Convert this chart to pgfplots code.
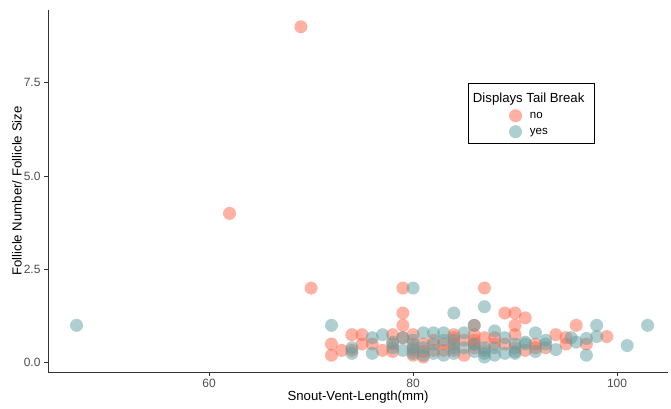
\documentclass[border=0pt]{standalone}
\usepackage{fontspec}
\setmainfont{Liberation Sans}
\usepackage{pgfplots}
\usepackage{pgfplotstable}
\pgfplotsset{compat=1.18}
\definecolor{noc}{HTML}{FF6347}
\definecolor{yesc}{HTML}{5F9EA0}
\definecolor{axc}{HTML}{333333}
\definecolor{tickc}{HTML}{4D4D4D}
\pgfplotstableread{
x y
62 4
69 9
70 2
79 2
87 2
79 1.33
79 1.0
89 1.33
90 1.33
91 1.2
90 1.0
86 1.0
96 1.0
72 0.5
72 0.2
73 0.33
74 0.75
74 0.33
75 0.75
75 0.5
76 0.5
77 0.33
78 0.75
78 0.5
79 0.67
80 0.75
80 0.5
80 0.2
81 0.15
81 0.5
82 0.33
82 0.6
83 0.5
83 0.33
84 0.75
84 0.67
85 0.2
86 0.75
86 0.6
86 0.5
87 0.67
87 0.33
88 0.5
89 0.5
90 0.75
90 0.4
91 0.33
92 0.5
92 0.4
93 0.4
94 0.75
95 0.67
95 0.5
97 0.5
99 0.7
81 0.3
85 0.6
84 0.5
78 0.3
80 0.33
84 0.33
86 0.4
88 0.67
}\nodata
\pgfplotstableread{
x y
47 1.0
72 1.0
80 2.0
84 1.33
87 1.5
86 1.0
88 0.85
92 0.8
96 0.55
98 1.0
103 1.0
101 0.46
98 0.7
97 0.65
97 0.2
95.5 0.67
94 0.35
93 0.6
74 0.4
74 0.25
76 0.67
76 0.25
77 0.75
78 0.4
78 0.55
79 0.33
79 0.67
80 0.4
81 0.8
81 0.4
81 0.2
82 0.8
82 0.5
82 0.25
83 0.8
83 0.2
84 0.4
84 0.25
85 0.8
85 0.4
86 0.3
87 0.4
87 0.25
87 0.15
88 0.4
89 0.67
89 0.25
90 0.5
90 0.3
91 0.55
91 0.5
92 0.3
93 0.5
80 0.6
83 0.6
80 0.25
84 0.6
86 0.5
88 0.2
90 0.25
}\yesdata
\begin{document}
\begin{tikzpicture}[x=1pt,y=1pt]
\path[use as bounding box] (0,0) rectangle (671,408);
\begin{axis}[
  at={(48pt,36pt)}, anchor=south west,
  scale only axis, width=620pt, height=362pt,
  xmin=44.2, xmax=105, ymin=-0.25, ymax=9.45,
  axis lines*=left,
  axis line style={axc, line width=1pt},
  xtick={60,80,100}, ytick={0,2.5,5,7.5},
  tick align=outside, major tick length=4pt,
  tick style={axc, line width=0.8pt},
  /pgf/number format/assume math mode=true,
  ticklabel style={font=\fontsize{12}{14}\selectfont, text=tickc},
  yticklabel style={/pgf/number format/fixed, /pgf/number format/fixed zerofill, /pgf/number format/precision=1},
  xlabel={Snout-Vent-Length(mm)}, ylabel={Follicle Number/ Follicle Size},
  label style={font=\fontsize{13.2}{15}\selectfont},
  xlabel style={at={(axis description cs:0.5,-0.069)}, anchor=center},
  ylabel style={at={(axis description cs:-0.05,0.5)}, anchor=center},
  legend cell align=left,
  legend style={at={(0.677,0.798)}, anchor=north west, draw=black, line width=0.8pt,
    font=\fontsize{11.5}{13}\selectfont, inner xsep=4pt, inner ysep=5.5pt, row sep=3pt,
    cells={anchor=west}},
  legend image code/.code={\path (-43pt,0) (12pt,0); \path[#1] plot coordinates {(0pt,0pt)};},
]
\addlegendimage{empty legend}
\addlegendentry{\hspace*{-57pt}\fontsize{13.2}{15}\selectfont Displays Tail Break\hspace*{4pt}\rule[-16pt]{0pt}{27.7pt}}
\addplot[only marks, mark=*, mark size=6.5pt, draw=noc, fill=noc, mark options={draw opacity=0, fill=noc, fill opacity=0.5}] table[x=x,y=y] {\nodata};
\addlegendentry{\raisebox{-1.5pt}{no}}
\addplot[only marks, mark=*, mark size=6.5pt, draw=yesc, fill=yesc, mark options={draw opacity=0, fill=yesc, fill opacity=0.5}] table[x=x,y=y] {\yesdata};
\addlegendentry{\raisebox{-1pt}{yes}}
\end{axis}
\end{tikzpicture}
\end{document}
